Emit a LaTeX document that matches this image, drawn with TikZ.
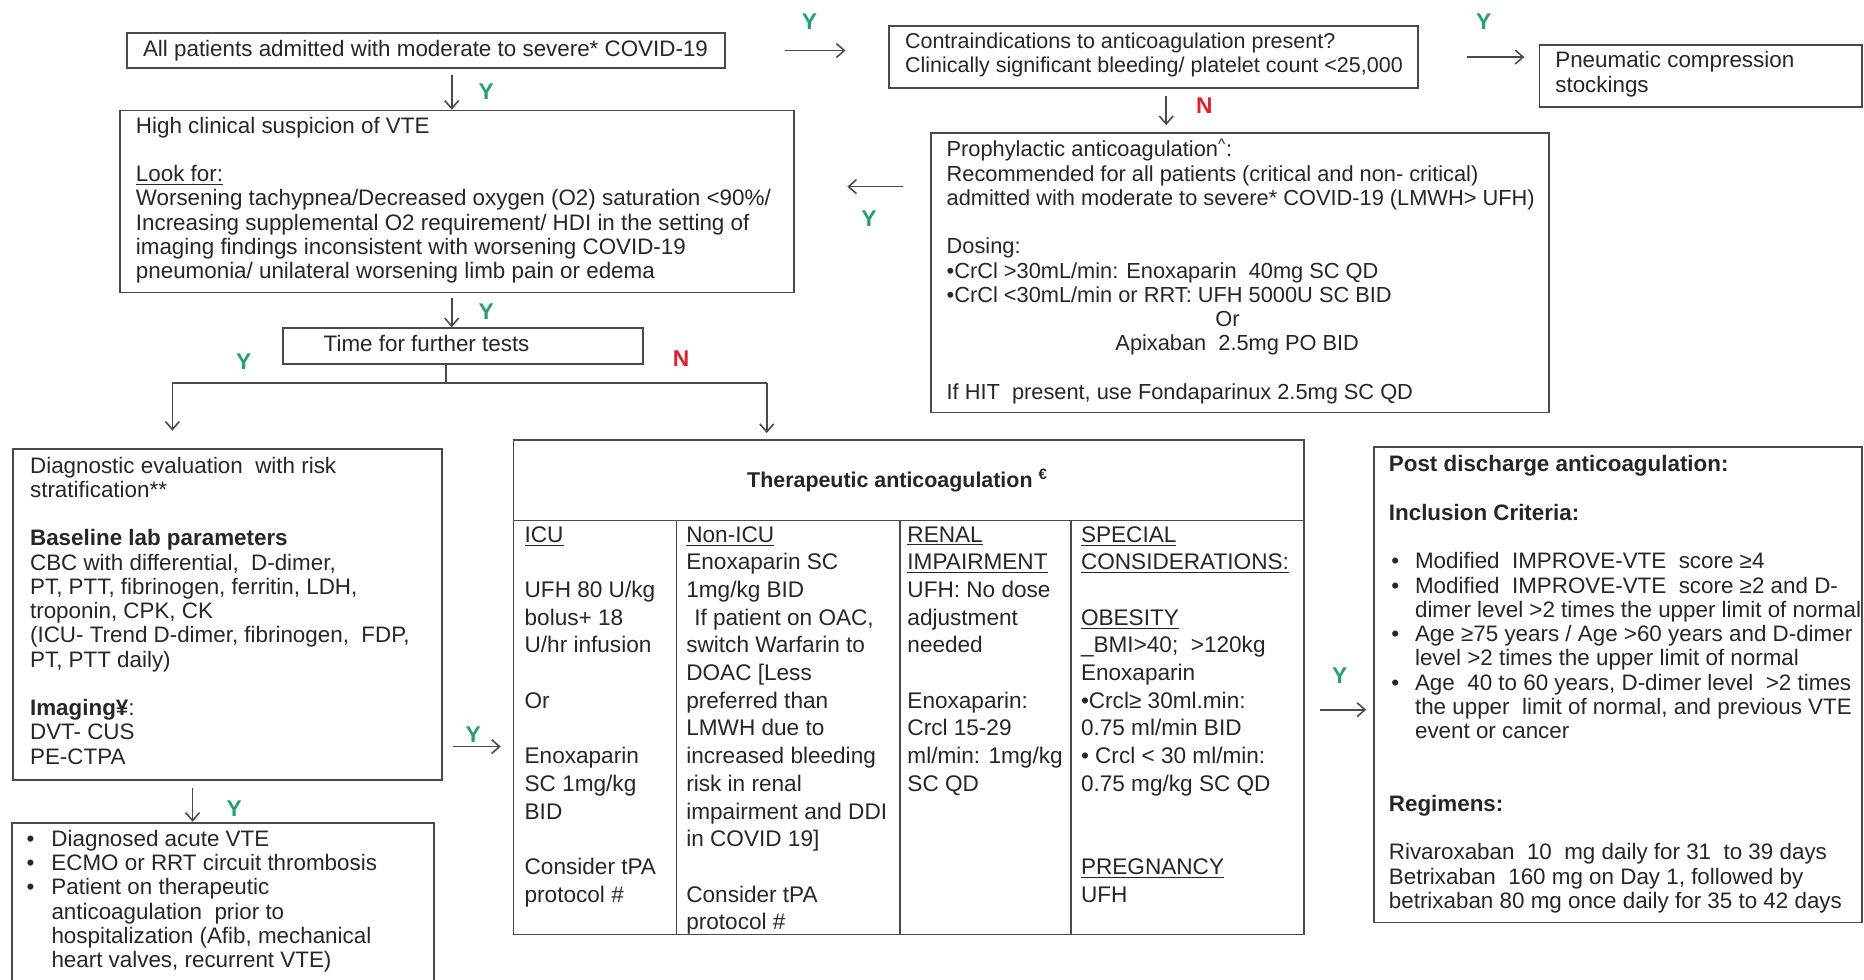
\documentclass[tikz,border=0pt]{standalone}
\usepackage{fontspec}
\setmainfont{Liberation Sans}
\usetikzlibrary{arrows.meta,fit,calc}
\newdimen\unitpx \unitpx=0.6pt
\definecolor{ygreen}{HTML}{2A9D78}
\definecolor{nred}{HTML}{E0202A}
\definecolor{ink}{HTML}{262626}
\definecolor{edge}{HTML}{4A4A4A}
\newcommand{\fsmain}{\fontsize{11.3}{12.24}\selectfont}
\newcommand{\fsnarrow}{\fontsize{10.85}{12.24}\selectfont}
\newcommand{\fsmid}{\fontsize{11.0}{12.24}\selectfont}
\newcommand{\fstab}{\fontsize{11.4}{13.98}\selectfont}
\newcommand{\ptext}[2]{\parbox[t]{#1\unitpx}{\raggedright #2}}
\newcommand{\bul}{\makebox[21\unitpx][l]{•}}
\newcommand{\ind}{\hspace*{21\unitpx}}
\newcommand{\pbul}{\makebox[22\unitpx][l]{\hspace{2\unitpx}•}}
\newcommand{\pind}{\hspace*{22\unitpx}}
\begin{document}
\begin{tikzpicture}[x=0.6pt,y=-0.6pt,
  box/.style={draw=edge,line width=0.9pt,inner sep=0pt},
  txt/.style={anchor=base west,inner sep=0pt,text=ink,font=\fsmain},
  arr/.style={draw=edge,line width=0.8pt,-{Straight Barb[length=4pt,width=7pt]}},
  link/.style={draw=edge,line width=0.8pt},
  yes/.style={text=ygreen,font=\fontsize{11.5}{12}\selectfont\bfseries,inner sep=0pt},
  no/.style={text=nred,font=\fontsize{11.5}{12}\selectfont\bfseries,inner sep=0pt}]
\useasboundingbox (0,0) rectangle (1568,824);
\clip (0,0) rectangle (1568,824);
\fill[white] (0,0) rectangle (1568,824);

% ---------- boxes ----------
\node[box,fit={(107,28) (610,57)}] (A) {};
\node[box,fit={(748,22) (1193,74)}] (B) {};
\node[box,fit={(1295,38) (1566,90)}] (C) {};
\node[box,fit={(783,112) (1303,347)}] (D) {};
\node[box,fit={(101,93) (668,246)}] (E) {};
\node[box,fit={(238,276) (541,306)}] (F) {};
\node[box,fit={(11,378) (372,656)}] (G) {};
\node[box,fit={(10,692) (365,840)}] (H) {};
\node[box,fit={(432,370) (1097,786)}] (T) {};
\node[box,fit={(1156,376) (1566,776)}] (P) {};

% ---------- texts ----------
\node[txt] (At) at (120,47.5) {All patients admitted with moderate to severe* COVID-19};
\node[txt,font=\fsnarrow] (Bt) at (761,41) {\ptext{440}{Contraindications to anticoagulation present?\\Clinically significant bleeding/ platelet count <25,000}};
\node[txt] (Ct) at (1308,57) {\ptext{250}{Pneumatic compression\\stockings}};
\node[txt,font=\fsmid] (Dt) at (796,132) {\ptext{540}{Prophylactic anticoagulation\textsuperscript{\^{}}:\\
Recommended for all patients (critical and non- critical)\\
admitted with moderate to severe* COVID-19 (LMWH> UFH)\\[\baselineskip]
Dosing:\\
•CrCl >30mL/min: Enoxaparin\ \ 40mg SC QD\\
•CrCl <30mL/min or RRT: UFH 5000U SC BID\\
\hspace*{226\unitpx}Or\\
\hspace*{142\unitpx}Apixaban\ \ 2.5mg PO BID\\[\baselineskip]
If HIT\ \ present, use Fondaparinux 2.5mg SC QD}};
\node[txt] (Et) at (114,112) {\ptext{550}{High clinical suspicion of VTE\\[\baselineskip]
\underline{Look for:}\\
Worsening tachypnea/Decreased oxygen (O2) saturation <90\%/\\
Increasing supplemental O2 requirement/ HDI in the setting of\\
imaging findings inconsistent with worsening COVID-19\\
pneumonia/ unilateral worsening limb pain or edema}};
\node[txt] (Ft) at (272,296) {Time for further tests};
\node[txt] (Gt) at (25,398) {\ptext{345}{Diagnostic evaluation\ \ with risk\\
stratification**\\[\baselineskip]
\textbf{Baseline lab parameters}\\
CBC with differential,\ \ D-dimer,\\
PT, PTT, fibrinogen, ferritin, LDH,\\
troponin, CPK, CK\\
(ICU- Trend D-dimer, fibrinogen,\ \ FDP,\\
PT, PTT daily)\\[\baselineskip]
\textbf{Imaging¥}:\\
DVT- CUS\\
PE-CTPA}};
\node[txt] (Ht) at (22,712) {\ptext{340}{\bul Diagnosed acute VTE\\
\bul ECMO or RRT circuit thrombosis\\
\bul Patient on therapeutic\\
\ind anticoagulation\ \ prior to\\
\ind hospitalization (Afib, mechanical\\
\ind heart valves, recurrent VTE)}};
\node[txt] (Pt) at (1168,397) {\ptext{400}{\textbf{Post discharge anticoagulation:}\\[\baselineskip]
\textbf{Inclusion Criteria:}\\[\baselineskip]
\pbul Modified\ \ IMPROVE-VTE\ \ score ≥4\\
\pbul Modified\ \ IMPROVE-VTE\ \ score ≥2 and D-\\
\pind dimer level >2 times the upper limit of normal\\
\pbul Age ≥75 years / Age >60 years and D-dimer\\
\pind level >2 times the upper limit of normal\\
\pbul Age\ \ 40 to 60 years, D-dimer level\ \ >2 times\\
\pind the upper\ \ limit of normal, and previous VTE\\
\pind event or cancer\\[2\baselineskip]
\textbf{Regimens:}\\[\baselineskip]
Rivaroxaban\ \ 10\ \ mg daily for 31\ \ to 39 days\\
Betrixaban\ \ 160 mg on Day 1, followed by\\
betrixaban 80 mg once daily for 35 to 42 days}};

% ---------- table ----------
\draw[link] (T.west |- 0,438) -- (T.east |- 0,438);
\draw[link] (569,438) -- (T.south -| 569,0);
\draw[link] (757,438) -- (T.south -| 757,0);
\draw[link] (901,438) -- (T.south -| 901,0);
\node[text=ink,inner sep=0pt,font=\fontsize{10.8}{12}\selectfont\bfseries] (Th) at (755,404) {Therapeutic anticoagulation \textsuperscript{€}};
\node[txt,font=\fstab] (c1) at (441,456) {\ptext{125}{\underline{ICU}\\[\baselineskip]
UFH 80 U/kg\\bolus+ 18\\U/hr infusion\\[\baselineskip]
Or\\[\baselineskip]
Enoxaparin\\SC 1mg/kg\\BID\\[\baselineskip]
Consider tPA\\protocol \#}};
\node[txt,font=\fstab] (c2) at (577,456) {\ptext{180}{\underline{Non-ICU}\\
Enoxaparin SC\\1mg/kg BID\\
\hspace*{4pt}If patient on OAC,\\
switch Warfarin to\\
DOAC [Less\\
preferred than\\
LMWH due to\\
increased bleeding\\
risk in renal\\
impairment and DDI\\
in COVID 19]\\[\baselineskip]
Consider tPA\\protocol \#}};
\node[txt,font=\fstab] (c3) at (763,456) {\ptext{140}{\underline{RENAL}\\
\underline{IMPAIRMENT}\\
UFH: No dose\\adjustment\\needed\\[\baselineskip]
Enoxaparin:\\Crcl 15-29\\ml/min: 1mg/kg\\SC QD}};
\node[txt,font=\fstab] (c4) at (909,456) {\ptext{190}{\underline{SPECIAL}\\
\underline{CONSIDERATIONS:}\\[\baselineskip]
\underline{OBESITY}\\
\textunderscore BMI>40;\ \ >120kg\\
Enoxaparin\\
•Crcl≥ 30ml.min:\\
0.75 ml/min BID\\
• Crcl < 30 ml/min:\\
0.75 mg/kg SC QD\\[2\baselineskip]
\underline{PREGNANCY}\\
UFH}};

% ---------- connectors ----------
\draw[arr,shorten <=50\unitpx,shorten >=36\unitpx] (A.east) -- (A.east -| B.west);
\draw[arr,shorten <=40\unitpx,shorten >=12\unitpx] (B.east) -- (B.east -| C.west);
\coordinate (ax) at (380,0);
\draw[arr,shorten <=5\unitpx] (A.south -| ax) -- (E.north -| ax);
\draw[arr,shorten <=4\unitpx] (E.south -| ax) -- (F.north -| ax);
\coordinate (bx) at (981,0);
\draw[arr,shorten <=6\unitpx,shorten >=6\unitpx] (B.south -| bx) -- (D.north -| bx);
\coordinate (dy) at (0,157);
\draw[arr,shorten <=23\unitpx,shorten >=44\unitpx] (D.west |- dy) -- (E.east |- dy);
\coordinate (split) at (375,322);
\coordinate (sl) at (145,322);
\coordinate (sr) at (645,322);
\draw[link] (F.south -| split) -- (split);
\draw[link] (sl) -- (sr);
\draw[arr,shorten >=15\unitpx] (sl) -- (sl |- G.north);
\draw[arr,shorten >=5\unitpx] (sr) -- (sr |- T.north);
\coordinate (gy) at (0,628);
\draw[arr,shorten <=8\unitpx,shorten >=10\unitpx] (G.east |- gy) -- (T.west |- gy);
\coordinate (ty) at (0,597);
\draw[arr,shorten <=13\unitpx,shorten >=6\unitpx] (T.east |- ty) -- (P.west |- ty);
\coordinate (hx) at (162,0);
\draw[arr,shorten <=6\unitpx] (G.south -| hx) -- (H.north -| hx);

% ---------- labels ----------
\node[yes] (y1) at (681,18) {Y};
\node[yes] (y2) at (1248,18) {Y};
\node[yes] (y3) at (409,77) {Y};
\node[no]  (n1) at (1013,89) {N};
\node[yes] (y4) at (731,184) {Y};
\node[yes] (y5) at (409,262) {Y};
\node[yes] (y6) at (205,304) {Y};
\node[no]  (n2) at (573,302) {N};
\node[yes] (y7) at (398,618) {Y};
\node[yes] (y8) at (1127,568) {Y};
\node[yes] (y9) at (197,680) {Y};
\end{tikzpicture}
\end{document}
